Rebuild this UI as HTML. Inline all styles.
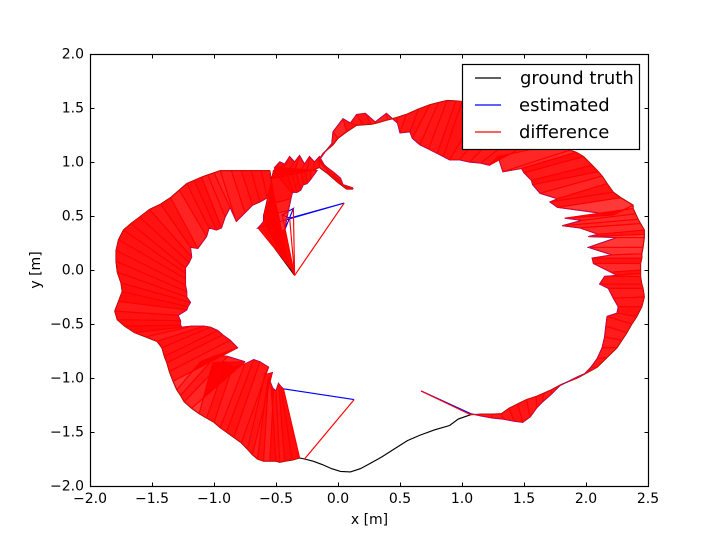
<!DOCTYPE html>
<html>
<head>
<meta charset="utf-8">
<style>
html,body{margin:0;padding:0;background:#fff;}
svg{display:block;font-family:"DejaVu Sans","Liberation Sans",sans-serif;}
</style>
</head>
<body>
<svg id="chart" width="720" height="540" viewBox="0 0 720 540" xmlns="http://www.w3.org/2000/svg">
<rect x="0" y="0" width="720" height="540" fill="#fff"/>
<g id="marks"></g>
<rect x="90.5" y="54.5" width="558" height="432" fill="none" stroke="#000" stroke-width="1.2"/>
<g id="ticks"></g>
<text x="369.5" y="524" font-size="14" text-anchor="middle">x [m]</text>
<text transform="translate(40,270) rotate(-90)" font-size="14" text-anchor="middle">y [m]</text>
<g>
<rect x="462.5" y="64.5" width="177" height="85" fill="#fff" stroke="#000" stroke-width="1.2"/>
<g>
<line x1="475" y1="78" x2="501" y2="78" stroke="#000" stroke-width="1.15"/>
<text x="520" y="84" font-size="18">ground truth</text>
</g>
<g>
<line x1="475" y1="105" x2="501" y2="105" stroke="#00f" stroke-width="1.15"/>
<text x="519" y="111" font-size="18">estimated</text>
</g>
<g>
<line x1="475" y1="132" x2="501" y2="132" stroke="#f00" stroke-width="1.15"/>
<text x="519" y="138" font-size="18">difference</text>
</g>
</g>
</svg>
<script>
var truthX = [
1.07,1.07,1.15,1.24,1.32,1.38,1.45,1.52,1.6,1.66,
1.72,1.80,1.93,2.01,2.09,2.17,2.25,2.29,2.33,2.37,
2.41,2.45,2.47,2.46,2.45,2.44,2.44,2.44,2.44,2.45,
2.45,2.46,2.47,2.47,2.47,2.44,2.42,2.4,2.38,2.38,
2.28,2.22,2.17,2.13,2.10,2.05,1.98,1.92,1.87,1.76,
1.65,1.52,1.4,1.28,1.15,1.0,.95,.88,.81,.74,
.65,.55,.47,.4,.31,.27,.2,.15,.07,0,
-.04,-.12,-.16,-.09,-.03,.02,.07,.12,.07,0,
-.08,-.15,-.2,-.25,-.3,-.35,-.4,-.45,-.49,-.51,
-.52,-.18,-.22,-.26,-.3,-.34,-.38,-.42,-.52,-.58,
-.6,-.55,-.45,-.35,-.35,-.35,-.35,-.35,-.51,-.47,
-.43,-.39,-.4,-.42,-.44,-.47,-.52,-.55,-.62,-.7,
-.78,-.86,-.95,-1,-1.05,-1.1,-1.16,-1.22,-1.28,-1.35,
-1.43,-1.52,-1.6,-1.67,-1.73,-1.77,-1.79,-1.79,-1.78,-1.75,
-1.74,-1.77,-1.8,-1.78,-1.72,-1.64,-1.55,-1.46,-1.42,-1.4,
-1.38,-1.36,-1.33,-1.3,-1.27,-1.24,-1.18,-1.12,-1.06,-1,
-.95,-.9,-.84,-.78,-.73,-.69,-.65,-.6,-.55,-.5,
-.47,-.43,-.37,-.31,-.27
];
var truthY = [
-1.34,-1.34,-1.335,-1.335,-1.33,-1.28,-1.24,-1.2,-1.17,-1.14,
-1.11,-1.06,-1,-.95,-.9,-.81,-.72,-.65,-.58,-.5,
-.43,-.34,-.25,-.17,-.13,-.06,-.03,0,.06,.11,
.15,.21,.3,.33,.37,.43,.47,.52,.57,.6,
.67,.72,.8,.87,.91,.97,1.05,1.09,1.11,1.17,
1.24,1.32,1.39,1.45,1.5,1.56,1.565,1.57,1.55,1.53,
1.49,1.44,1.41,1.39,1.36,1.35,1.345,1.34,1.28,1.22,
1.16,1.08,1.01,.93,.86,.8,.76,.75,.75,.81,
.89,.95,.93,.92,.92,.92,.92,.92,.92,.9,
.85,.93,.92,.92,.92,.92,.92,.92,.92,.6,
.5,.35,.15,-.05,-.05,-.05,-.05,-.05,.2,.14,
.08,.02,.08,.16,.25,.45,.7,.92,.92,.92,
.92,.92,.92,.9,.88,.86,.83,.8,.74,.67,
.61,.56,.49,.43,.37,.28,.18,.08,-.02,-.12,
-.2,-.29,-.38,-.46,-.52,-.58,-.62,-.66,-.72,-.8,
-.86,-.94,-1.03,-1.11,-1.16,-1.22,-1.28,-1.33,-1.37,-1.41,
-1.46,-1.5,-1.55,-1.6,-1.66,-1.71,-1.75,-1.77,-1.77,-1.77,
-1.78,-1.77,-1.76,-1.74,-1.75
];
var estX = [
.67,1.07,1.15,1.24,1.33,1.42,1.49,1.55,1.6,1.65,
1.72,1.79,1.93,1.99,2.04,2.09,2.13,2.15,2.16,2.17,
2.25,2.26,2.22,2.18,2.11,2.15,2.25,2.2,2.06,2.05,
2.21,2.02,2.25,2.02,2.10,1.95,1.81,1.97,1.83,2.22,
1.77,1.71,1.77,1.63,1.57,1.56,1.5,1.48,1.33,1.29,
1.22,1.15,1.06,.98,.9,.85,.8,.73,.66,.6,
.58,.5,.48,.39,.3,.22,.15,.1,.04,-.04,
-.05,-.1,-.15,-.1,-.03,.02,.04,.12,.05,-.02,
-.09,-.15,-.19,-.23,-.27,-.31,-.35,-.39,-.43,-.47,
-.51,-.17,-.22,-.25,-.28,-.3,-.33,-.36,-.37,-.38,
-.4,-.43,-.43,-.43,-.36,-.45,-.39,.05,-.645,-.62,
-.6,-.6,-.58,-.57,-.55,-.55,-.53,-.53,-.57,-.63,
-.69,-.75,-.82,-.87,-.91,-.94,-.98,-1.04,-1.06,-1.13,
-1.19,-1.18,-1.2,-1.23,-1.23,-1.23,-1.23,-1.22,-1.22,-1.19,
-1.21,-1.22,-1.29,-1.27,-1.27,-1.26,-1.18,-1.08,-1.03,-.97,
-.93,-.87,-.81,-1.11,-.98,-.89,-.75,-1.01,-.9,-.85,
-.75,-.68,-.63,-.56,-.59,-.53,-.57,-.56,-.52,-.54,
-.5,-.48,-.46,-.44,.13
];
var estY = [
-1.12,-1.33,-1.35,-1.37,-1.38,-1.40,-1.41,-1.36,-1.28,-1.22,
-1.15,-1.07,-.99,-.96,-.9,-.82,-.72,-.62,-.52,-.43,
-.4,-.34,-.26,-.17,-.13,-.06,-.05,-.02,.06,.11,
.14,.21,.3,.31,.33,.39,.41,.46,.48,.51,
.58,.63,.66,.71,.79,.83,.9,.94,.91,1.05,
.97,.99,1.0,1.02,1.02,1.05,1.08,1.12,1.16,1.22,
1.28,1.27,1.36,1.45,1.37,1.45,1.44,1.36,1.4,1.28,
1.17,1.1,1.02,.96,.9,.85,.79,.76,.78,.86,
.93,1.05,1.0,1.05,.98,1.06,1.0,1.05,.98,1.0,
.95,.92,.84,.8,.79,.74,.72,.72,.71,.66,
.55,.37,.37,.37,.57,.51,.48,.62,.39,.42,
.45,.51,.56,.6,.64,.7,.75,.72,.67,.63,
.6,.53,.45,.58,.49,.39,.37,.39,.31,.2,
.21,.12,.07,.02,-.03,-.08,-.14,-.2,-.25,-.3,
-.34,-.37,-.42,-.47,-.51,-.53,-.52,-.52,-.53,-.56,
-.6,-.65,-.72,-.85,-.79,-.8,-.85,-.86,-.85,-.9,
-.87,-.83,-.85,-.9,-.97,-.95,-1.05,-1.0,-1.11,-1.08,
-1.12,-1.05,-1.08,-1.1,-1.2
];
var truthTailX = [-.27,-.2,-.13,-.05,.02,.1,.18,.26,.34,.45,.56,.66,.78,.9,.97,1.07];
var truthTailY = [-1.75,-1.77,-1.8,-1.84,-1.865,-1.87,-1.84,-1.79,-1.74,-1.66,-1.58,-1.53,-1.48,-1.44,-1.38,-1.34];
var xTicks = [-2,-1.5,-1,-.5,0,.5,1,1.5,2,2.5];
var xTickLabels = ["\u22122.0","\u22121.5","\u22121.0","\u22120.5","0.0","0.5","1.0","1.5","2.0","2.5"];
var yTicks = [-2,-1.5,-1,-.5,0,.5,1,1.5,2];
var yTickLabels = ["\u22122.0","\u22121.5","\u22121.0","\u22120.5","0.0","0.5","1.0","1.5","2.0"];

var SVGNS = "http://www.w3.org/2000/svg";
var plotLeft = 90, plotRight = 648, plotTop = 54, plotBottom = 486;
var xMin = -2, xMax = 2.5, yMin = -2, yMax = 2;
var fanGapLimit = 0.5;
function sx(v){ return plotLeft + (v - xMin) / (xMax - xMin) * (plotRight - plotLeft); }
function sy(v){ return plotBottom - (v - yMin) / (yMax - yMin) * (plotBottom - plotTop); }
function mk(tag, attrs, parent){
  var el = document.createElementNS(SVGNS, tag);
  for (var k in attrs) el.setAttribute(k, attrs[k]);
  parent.appendChild(el);
  return el;
}
function polyPoints(xs, ys){
  var out = [];
  for (var i = 0; i < xs.length; i++) out.push(sx(xs[i]).toFixed(2) + "," + sy(ys[i]).toFixed(2));
  return out.join(" ");
}
var marks = document.getElementById("marks");
var ticks = document.getElementById("ticks");

var truthLine = mk("polyline", {points: polyPoints(truthX.concat(truthTailX), truthY.concat(truthTailY)), fill: "none", stroke: "#000", "stroke-width": 1.15}, marks);



var estLine = mk("polyline", {points: polyPoints(estX, estY), fill: "none", stroke: "#00f", "stroke-width": 1.15}, marks);



var diffGroup = mk("g", {}, marks);



for (var i = 0; i < truthX.length; i++) {
  if (i < truthX.length - 1) {
    var estStep = Math.hypot(estX[i + 1] - estX[i], estY[i + 1] - estY[i]);
    var truthStep = Math.hypot(truthX[i + 1] - truthX[i], truthY[i + 1] - truthY[i]);
    if (estStep < fanGapLimit && truthStep > 0) {
      var pts = [
        sx(truthX[i]).toFixed(2) + "," + sy(truthY[i]).toFixed(2),
        sx(estX[i]).toFixed(2) + "," + sy(estY[i]).toFixed(2),
        sx(estX[i + 1]).toFixed(2) + "," + sy(estY[i + 1]).toFixed(2),
        sx(truthX[i + 1]).toFixed(2) + "," + sy(truthY[i + 1]).toFixed(2)
      ].join(" ");
      var bandOpacity = Math.max(0.78, 0.98 - estStep * 0.9);
      var band = mk("polygon", {points: pts, fill: "#f00", "fill-opacity": bandOpacity.toFixed(2), stroke: "#f00", "stroke-width": 0.7, "stroke-linejoin": "round"}, diffGroup);
      
      
    }
  }
  var seg = mk("line", {x1: sx(truthX[i]), y1: sy(truthY[i]), x2: sx(estX[i]), y2: sy(estY[i]), stroke: "#f00", "stroke-width": 1.15}, diffGroup);
  
  
}

for (var a = 0; a < xTicks.length; a++) {
  var tx = Math.round(sx(xTicks[a])) + 0.5;
  var xb = mk("line", {x1: tx, y1: plotBottom + 0.5, x2: tx, y2: plotBottom - 3.5, stroke: "#000"}, ticks);
  
  
  var xt = mk("line", {x1: tx, y1: plotTop + 0.5, x2: tx, y2: plotTop + 4.5, stroke: "#000"}, ticks);
  
  
  var xl = mk("text", {x: sx(xTicks[a]), y: plotBottom + 17, "font-size": 14, "text-anchor": "middle"}, ticks);
  xl.textContent = xTickLabels[a];
  
  
}
for (var b = 0; b < yTicks.length; b++) {
  var ty = Math.round(sy(yTicks[b])) + 0.5;
  var yl = mk("line", {x1: plotLeft + 0.5, y1: ty, x2: plotLeft + 4.5, y2: ty, stroke: "#000"}, ticks);
  
  
  var yr = mk("line", {x1: plotRight + 0.5, y1: ty, x2: plotRight - 3.5, y2: ty, stroke: "#000"}, ticks);
  
  
  var yt = mk("text", {x: plotLeft - 6, y: sy(yTicks[b]) + 4.5, "font-size": 14, "text-anchor": "end"}, ticks);
  yt.textContent = yTickLabels[b];
  
  
}
</script>
</body>
</html>
